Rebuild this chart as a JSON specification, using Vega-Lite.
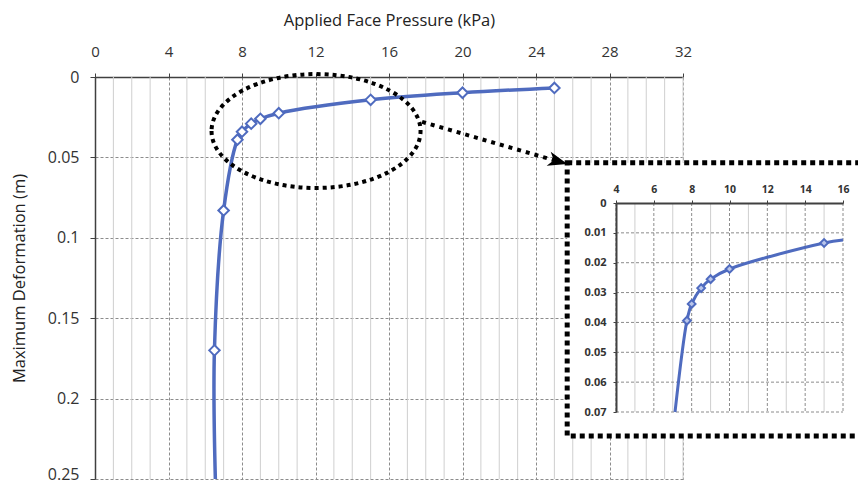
{
  "$schema": "https://vega.github.io/schema/vega-lite/v6.json",
  "width": 588,
  "height": 402,
  "autosize": "none",
  "padding": {"left": 95, "top": 77, "right": 175, "bottom": 5},
  "background": "white",
  "config": {"view": {"stroke": null}, "font": "Open Sans"},
  "datasets": {
    "main": [
      {"pressure": 6.55, "deformation": 0.25, "kind": "trace"},
      {"pressure": 6.5, "deformation": 0.17, "kind": "test"},
      {"pressure": 7.0, "deformation": 0.083, "kind": "test"},
      {"pressure": 7.75, "deformation": 0.039, "kind": "test"},
      {"pressure": 8.0, "deformation": 0.034, "kind": "test"},
      {"pressure": 8.5, "deformation": 0.029, "kind": "test"},
      {"pressure": 9.0, "deformation": 0.026, "kind": "test"},
      {"pressure": 10.0, "deformation": 0.0225, "kind": "test"},
      {"pressure": 15.0, "deformation": 0.0142, "kind": "test"},
      {"pressure": 20.0, "deformation": 0.0098, "kind": "test"},
      {"pressure": 25.0, "deformation": 0.0068, "kind": "test"}
    ],
    "mainGridMinor": [{"v": 1}, {"v": 2}, {"v": 3}, {"v": 5}, {"v": 6}, {"v": 7}, {"v": 9}, {"v": 10}, {"v": 11}, {"v": 13}, {"v": 14}, {"v": 15}, {"v": 17}, {"v": 18}, {"v": 19}, {"v": 21}, {"v": 22}, {"v": 23}, {"v": 25}, {"v": 26}, {"v": 27}, {"v": 29}, {"v": 30}, {"v": 31}, {"v": 32}],
    "inset": [
      {"pressure": 7.12, "deformation": 0.07, "kind": "trace"},
      {"pressure": 7.75, "deformation": 0.0394, "kind": "test"},
      {"pressure": 8.0, "deformation": 0.0338, "kind": "test"},
      {"pressure": 8.5, "deformation": 0.0285, "kind": "test"},
      {"pressure": 9.0, "deformation": 0.0255, "kind": "test"},
      {"pressure": 10.0, "deformation": 0.0221, "kind": "test"},
      {"pressure": 15.0, "deformation": 0.0134, "kind": "test"},
      {"pressure": 16.0, "deformation": 0.0124, "kind": "trace"}
    ],
    "insetGridX": [{"v": 4}, {"v": 5}, {"v": 6}, {"v": 7}, {"v": 8}, {"v": 9}, {"v": 10}, {"v": 11}, {"v": 12}, {"v": 13}, {"v": 14}, {"v": 15}, {"v": 16}],
    "insetGridY": [{"v": 0.01}, {"v": 0.02}, {"v": 0.03}, {"v": 0.04}, {"v": 0.05}, {"v": 0.06}, {"v": 0.07}],
    "ellipse": [{"px": 12.03, "dy": 0.0336}],
    "arrow": [{"px": 17.8, "dy": 0.0279, "px2": 25.2, "dy2": 0.0525}],
    "insetBox": [{"x1": 1.42, "x2": 17.5, "y1": -0.0135, "y2": 0.078}]
  },
  "layer": [
    {
      "layer": [
        {
          "data": {"name": "mainGridMinor"},
          "mark": {"type": "rule", "strokeWidth": 1, "color": "#cfcfcf"},
          "encoding": {
            "x": {"field": "v", "type": "quantitative"}
          }
        },
        {
          "data": {"name": "main"},
          "mark": {"type": "line", "interpolate": "catmull-rom", "color": "#4f6bbf", "strokeWidth": 3.5},
          "encoding": {
            "x": {
              "field": "pressure", "type": "quantitative",
              "scale": {"domain": [0, 32], "nice": false, "zero": false},
              "axis": {
                "orient": "top",
                "title": "Applied Face Pressure (kPa)",
                "values": [0, 4, 8, 12, 16, 20, 24, 28, 32],
                "labelOverlap": false, "labelFlush": false,
                "labelFont": "Open Sans", "labelFontSize": 15, "labelColor": "#333333", "labelPadding": 14,
                "tickSize": 4, "tickColor": "#404040",
                "domainColor": "#404040", "domainWidth": 1.5,
                "grid": true, "gridWidth": 1, "gridColor": "#8c8c8c", "gridDash": [3, 2],
                "titleFont": "Open Sans", "titleFontSize": 16.5, "titleFontWeight": "normal", "titleColor": "#222222", "titlePadding": 16
              }
            },
            "y": {
              "field": "deformation", "type": "quantitative",
              "scale": {"domain": [0, 0.25], "nice": false, "reverse": true},
              "axis": {
                "orient": "left",
                "title": "Maximum Deformation (m)",
                "values": [0, 0.05, 0.1, 0.15, 0.2, 0.25],
                "format": ".2~f",
                "labelOverlap": false, "labelFlush": false,
                "labelFont": "Open Sans", "labelFontSize": 16, "labelColor": "#333333", "labelPadding": 11,
                "labelOffset": {"condition": {"test": "datum.value > 0.24", "value": -5}, "value": 0},
                "tickSize": 5, "tickColor": "#404040",
                "domainColor": "#404040", "domainWidth": 1.5,
                "grid": true, "gridWidth": 1, "gridColor": "#8c8c8c", "gridDash": [3, 2],
                "titleFont": "Open Sans", "titleFontSize": 16.5, "titleFontWeight": "normal", "titleColor": "#222222", "titlePadding": 20
              }
            },
            "order": {"field": "deformation", "type": "quantitative", "sort": "descending"}
          }
        },
        {
          "data": {"name": "main"},
          "transform": [{"filter": "datum.kind === 'test'"}],
          "mark": {"type": "point", "shape": "diamond", "filled": true, "fill": "white", "stroke": "#4f6bbf", "strokeWidth": 2, "size": 110, "opacity": 1},
          "encoding": {
            "x": {"field": "pressure", "type": "quantitative"},
            "y": {"field": "deformation", "type": "quantitative"}
          }
        },
        {
          "data": {"name": "ellipse"},
          "mark": {"type": "point", "shape": "M -1 0 A 1 0.545 0 1 0 1 0 A 1 0.545 0 1 0 -1 0 Z", "size": 43681, "filled": false, "stroke": "black", "strokeWidth": 4, "strokeDash": [4, 4], "opacity": 1},
          "encoding": {
            "x": {"field": "px", "type": "quantitative"},
            "y": {"field": "dy", "type": "quantitative"}
          }
        },
        {
          "data": {"name": "arrow"},
          "mark": {"type": "rule", "stroke": "black", "strokeWidth": 4, "strokeDash": [4, 5]},
          "encoding": {
            "x": {"field": "px", "type": "quantitative"},
            "y": {"field": "dy", "type": "quantitative"},
            "x2": {"field": "px2"},
            "y2": {"field": "dy2"}
          }
        },
        {
          "data": {"name": "arrow"},
          "mark": {"type": "point", "shape": "M 1 0 L -1 -0.75 L -0.45 0 L -1 0.75 Z", "filled": true, "color": "black", "size": 380, "angle": 16, "opacity": 1},
          "encoding": {
            "x": {"field": "px2", "type": "quantitative"},
            "y": {"field": "dy2", "type": "quantitative"}
          }
        }
      ]
    },
    {
      "layer": [
        {
          "data": {"name": "insetBox"},
          "mark": {"type": "rect", "fill": "white", "stroke": "black", "strokeWidth": 5, "strokeDash": [5, 4]},
          "encoding": {
            "x": {
              "field": "x1", "type": "quantitative",
              "scale": {"domain": [4, 16], "range": [521, 748], "nice": false, "zero": false},
              "axis": {
                "orient": "top", "offset": -126, "zindex": 1, "title": null,
                "values": [4, 6, 8, 10, 12, 14, 16],
                "labelOverlap": false, "labelFlush": false,
                "labelFont": "Open Sans", "labelFontSize": 10.5, "labelFontWeight": "bold", "labelColor": "#333333", "labelPadding": 6,
                "tickSize": 3, "tickColor": "#404040",
                "domainColor": "#404040", "domainWidth": 2, "grid": false
              }
            },
            "x2": {"field": "x2"},
            "y": {
              "field": "y1", "type": "quantitative",
              "scale": {"domain": [0, 0.07], "range": [126, 335], "nice": false, "zero": false},
              "axis": {
                "orient": "left", "offset": -521, "zindex": 1, "title": null,
                "values": [0, 0.01, 0.02, 0.03, 0.04, 0.05, 0.06, 0.07],
                "format": ".2~f",
                "labelOverlap": false, "labelFlush": false,
                "labelFont": "Open Sans", "labelFontSize": 11, "labelFontWeight": "bold", "labelColor": "#333333", "labelPadding": 7,
                "tickSize": 3, "tickColor": "#404040",
                "domainColor": "#404040", "domainWidth": 2, "grid": false
              }
            },
            "y2": {"field": "y2"}
          }
        },
        {
          "data": {"name": "insetGridX"},
          "mark": {"type": "rule", "strokeWidth": 1},
          "encoding": {
            "x": {"field": "v", "type": "quantitative"},
            "y": {"datum": 0, "type": "quantitative"},
            "y2": {"datum": 0.07},
            "color": {"condition": {"test": "datum.v % 2 === 0", "value": "#8c8c8c"}, "value": "#cfcfcf"},
            "strokeDash": {"condition": {"test": "datum.v % 2 === 0", "value": [3, 2]}, "value": [1, 0]}
          }
        },
        {
          "data": {"name": "insetGridY"},
          "mark": {"type": "rule", "strokeWidth": 1, "color": "#8c8c8c", "strokeDash": [3, 2]},
          "encoding": {
            "y": {"field": "v", "type": "quantitative"},
            "x": {"datum": 4, "type": "quantitative"},
            "x2": {"datum": 16}
          }
        },
        {
          "data": {"name": "inset"},
          "mark": {"type": "line", "interpolate": "catmull-rom", "color": "#4f6bbf", "strokeWidth": 3},
          "encoding": {
            "x": {"field": "pressure", "type": "quantitative"},
            "y": {"field": "deformation", "type": "quantitative"},
            "order": {"field": "deformation", "type": "quantitative", "sort": "descending"}
          }
        },
        {
          "data": {"name": "inset"},
          "transform": [{"filter": "datum.kind === 'test'"}],
          "mark": {"type": "point", "shape": "diamond", "filled": true, "fill": "#b9c5ea", "stroke": "#4f6bbf", "strokeWidth": 2, "size": 60, "opacity": 1},
          "encoding": {
            "x": {"field": "pressure", "type": "quantitative"},
            "y": {"field": "deformation", "type": "quantitative"}
          }
        }
      ]
    }
  ],
  "resolve": {"scale": {"x": "independent", "y": "independent"}}
}
